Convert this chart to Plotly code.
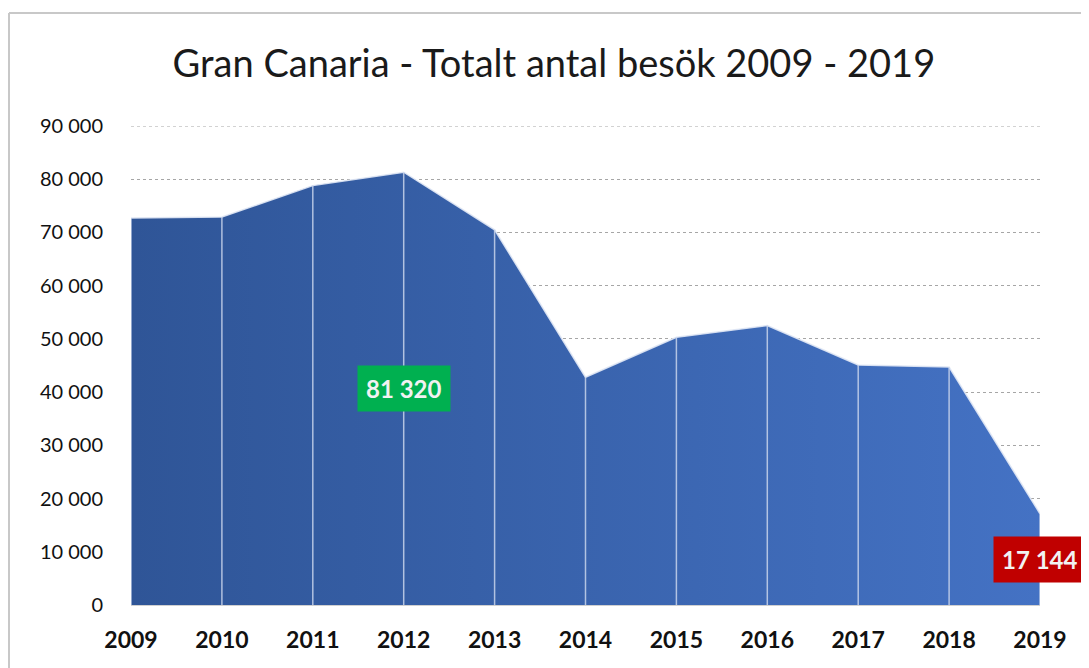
import plotly.graph_objects as go

years = [2009, 2010, 2011, 2012, 2013, 2014, 2015, 2016, 2017, 2018, 2019]
visits = [72700, 72900, 78800, 81320, 70500, 42800, 50300, 52500, 45100, 44700, 17144]
y_ticks = [0, 10000, 20000, 30000, 40000, 50000, 60000, 70000, 80000, 90000]
y_tick_labels = ["0", "10 000", "20 000", "30 000", "40 000", "50 000", "60 000", "70 000", "80 000", "90 000"]
x_tick_labels = [str(y) for y in years]
highlights = [(2012, 81320, "81 320", "#00B050"), (2019, 17144, "17 144", "#C00000")]

FONT = "Lato"
W, H = 1081, 660
L, R, T, B = 123, 49, 118, 63
PW, PH = W - L - R, H - T - B

fig = go.Figure()

fig.add_trace(go.Scatter(
    x=years, y=visits, mode="lines", fill="tozeroy",
    line=dict(color="rgba(225,232,245,0.9)", width=1.5),
    fillgradient=dict(type="horizontal",
                      colorscale=[[0, "#2F5597"], [1, "#4472C4"]]),
    hoverinfo="skip", showlegend=False,
))

# white vertical dividers at each year
vx, vy = [], []
for yr, v in zip(years, visits):
    vx += [yr, yr, None]
    vy += [0, v, None]
fig.add_trace(go.Scatter(
    x=vx, y=vy, mode="lines",
    line=dict(color="rgba(200,212,235,0.85)", width=1.5),
    hoverinfo="skip", showlegend=False,
))

for yr, v, txt, col in highlights:
    fig.add_annotation(
        x=yr, y=v / 2, text="<b>" + txt + "</b>", showarrow=False,
        font=dict(family=FONT, size=24, color="#F2F2F2"),
        bgcolor=col, borderpad=8, xanchor="center", yanchor="middle",
    )

shapes = [
    dict(type="line", xref="paper", yref="paper", x0=0, x1=1, y0=0, y1=0,
         line=dict(color="#D0D0D0", width=2), layer="below"),
    dict(type="line", xref="paper", yref="paper",
         x0=-(L - 1) / PW, x1=(W - L) / PW, y0=1 + (T - 5) / PH, y1=1 + (T - 5) / PH,
         line=dict(color="#C8C8C8", width=2)),
    dict(type="line", xref="paper", yref="paper",
         x0=-(L - 1) / PW, x1=-(L - 1) / PW, y0=1 + (T - 5) / PH, y1=-B / PH,
         line=dict(color="#C8C8C8", width=2)),
    # top gridline (at the edge of the range)
    dict(type="line", xref="paper", yref="y", x0=0, x1=1,
         y0=y_ticks[-1], y1=y_ticks[-1],
         line=dict(color="#A6A6A6", width=1, dash="dot"), layer="below"),
]

fig.update_layout(
    width=W, height=H,
    paper_bgcolor="white", plot_bgcolor="white",
    margin=dict(l=L, r=R, t=T, b=B),
    title=dict(text="Gran Canaria - Totalt antal besök 2009 - 2019",
               x=0.505, xanchor="center", y=1 - 56 / H, yanchor="middle",
               font=dict(family=FONT, size=38, color="#1a1a1a")),
    xaxis=dict(range=[2009, 2019], tickvals=years, ticktext=x_tick_labels,
               showgrid=False, zeroline=False, showline=False,
               ticks="", ticklabelstandoff=19,
               tickfont=dict(family=FONT, size=23, color="#111111", weight="bold")),
    yaxis=dict(range=[0, 90000], tickvals=y_ticks, ticktext=y_tick_labels,
               showgrid=True, gridcolor="#A6A6A6", griddash="dot", gridwidth=1,
               zeroline=False, showline=False, ticks="", ticklabelstandoff=27,
               tickfont=dict(family=FONT, size=20, color="#111111")),
    shapes=shapes,
)

fig.write_html("out.html")
